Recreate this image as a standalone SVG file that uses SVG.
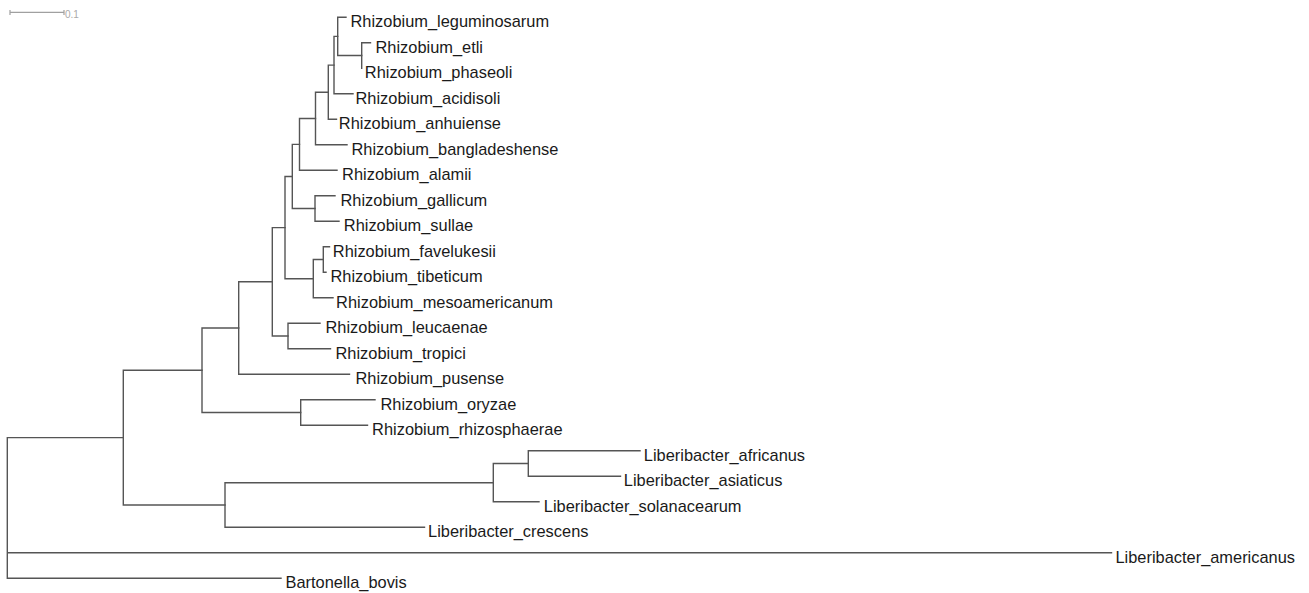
<svg xmlns="http://www.w3.org/2000/svg" width="1309" height="593" viewBox="0 0 1309 593">
<style>
.br{fill:none;stroke:#555;stroke-width:1.4;stroke-linecap:square}
.lb{font-family:"Liberation Sans",Arial,sans-serif;font-size:16.4px;fill:#1a1a1a}
.sc{fill:none;stroke:#a0a0a0;stroke-width:1.2}
.st{font-family:"Liberation Sans",Arial,sans-serif;font-size:10px;fill:#aaa}
</style>
<rect width="1309" height="593" fill="#fff"/>
<g id="scalebar">
<path class="sc" d="M10,12.3 H64 M10,10 V15 M64,10 V15"/>
<text class="st" x="65" y="18">0.1</text>
</g>
<g id="connectors">
<path class="br" d="M361.7,42.8 V68.3 M361.7,42.8 H370.5"/>
<path class="br" d="M337.7,17.3 V55.55 M337.7,17.3 H346 M337.7,55.55 H361.7"/>
<path class="br" d="M334,36.4 V93.8 M334,36.4 H337.7 M334,93.8 H353"/>
<path class="br" d="M328.3,65.1 V119.3 M328.3,65.1 H334 M328.3,119.3 H336.5"/>
<path class="br" d="M315.5,92.2 V144.8 M315.5,92.2 H328.3 M315.5,144.8 H347"/>
<path class="br" d="M299.5,118.5 V170.3 M299.5,118.5 H315.5 M299.5,170.3 H337"/>
<path class="br" d="M315,195.8 V221.3 M315,195.8 H335 M315,221.3 H339"/>
<path class="br" d="M292.3,144.4 V208.55 M292.3,144.4 H299.5 M292.3,208.55 H315"/>
<path class="br" d="M323.3,246.8 V272.3 M323.3,246.8 H329.5 M323.3,272.3 H326"/>
<path class="br" d="M313.3,259.55 V297.8 M313.3,259.55 H323.3 M313.3,297.8 H333"/>
<path class="br" d="M285,176.5 V278.7 M285,176.5 H292.3 M285,278.7 H313.3"/>
<path class="br" d="M288,323.3 V348.8 M288,323.3 H320 M288,348.8 H330.5"/>
<path class="br" d="M272.3,227.6 V336.05 M272.3,227.6 H285 M272.3,336.05 H288"/>
<path class="br" d="M238.7,281.8 V374.3 M238.7,281.8 H272.3 M238.7,374.3 H349.5"/>
<path class="br" d="M300.7,399.8 V425.3 M300.7,399.8 H375 M300.7,425.3 H367.5"/>
<path class="br" d="M202,328.05 V412.55 M202,328.05 H238.7 M202,412.55 H300.7"/>
<path class="br" d="M528.3,450.8 V476.3 M528.3,450.8 H640 M528.3,476.3 H620.5"/>
<path class="br" d="M493.3,463.55 V501.8 M493.3,463.55 H528.3 M493.3,501.8 H539"/>
<path class="br" d="M225,482.7 V527.3 M225,482.7 H493.3 M225,527.3 H424.5"/>
<path class="br" d="M123.3,370.3 V505 M123.3,370.3 H202 M123.3,505 H225"/>
<path class="br" d="M7.3,437.65 V578.3 M7.3,437.65 H123.3 M7.3,552.8 H1111.5 M7.3,578.3 H281"/>
</g>
<g id="leaf-Rhizobium_leguminosarum"><text class="lb" x="350.5" y="27.3">Rhizobium_leguminosarum</text></g>
<g id="leaf-Rhizobium_etli"><text class="lb" x="375.5" y="52.8">Rhizobium_etli</text></g>
<g id="leaf-Rhizobium_phaseoli"><text class="lb" x="364.8" y="78.3">Rhizobium_phaseoli</text></g>
<g id="leaf-Rhizobium_acidisoli"><text class="lb" x="355.5" y="103.8">Rhizobium_acidisoli</text></g>
<g id="leaf-Rhizobium_anhuiense"><text class="lb" x="338.8" y="129.3">Rhizobium_anhuiense</text></g>
<g id="leaf-Rhizobium_bangladeshense"><text class="lb" x="351.5" y="154.8">Rhizobium_bangladeshense</text></g>
<g id="leaf-Rhizobium_alamii"><text class="lb" x="342.1" y="180.3">Rhizobium_alamii</text></g>
<g id="leaf-Rhizobium_gallicum"><text class="lb" x="340.5" y="205.8">Rhizobium_gallicum</text></g>
<g id="leaf-Rhizobium_sullae"><text class="lb" x="343.8" y="231.3">Rhizobium_sullae</text></g>
<g id="leaf-Rhizobium_favelukesii"><text class="lb" x="332.8" y="256.8">Rhizobium_favelukesii</text></g>
<g id="leaf-Rhizobium_tibeticum"><text class="lb" x="330.5" y="282.3">Rhizobium_tibeticum</text></g>
<g id="leaf-Rhizobium_mesoamericanum"><text class="lb" x="336.1" y="307.8">Rhizobium_mesoamericanum</text></g>
<g id="leaf-Rhizobium_leucaenae"><text class="lb" x="325.5" y="333.3">Rhizobium_leucaenae</text></g>
<g id="leaf-Rhizobium_tropici"><text class="lb" x="335.5" y="358.8">Rhizobium_tropici</text></g>
<g id="leaf-Rhizobium_pusense"><text class="lb" x="355.5" y="384.3">Rhizobium_pusense</text></g>
<g id="leaf-Rhizobium_oryzae"><text class="lb" x="380.5" y="409.8">Rhizobium_oryzae</text></g>
<g id="leaf-Rhizobium_rhizosphaerae"><text class="lb" x="372.1" y="435.3">Rhizobium_rhizosphaerae</text></g>
<g id="leaf-Liberibacter_africanus"><text class="lb" x="643.8" y="460.8">Liberibacter_africanus</text></g>
<g id="leaf-Liberibacter_asiaticus"><text class="lb" x="623.8" y="486.3">Liberibacter_asiaticus</text></g>
<g id="leaf-Liberibacter_solanacearum"><text class="lb" x="543.8" y="511.8">Liberibacter_solanacearum</text></g>
<g id="leaf-Liberibacter_crescens"><text class="lb" x="428.1" y="537.3">Liberibacter_crescens</text></g>
<g id="leaf-Liberibacter_americanus"><text class="lb" x="1115.5" y="562.8">Liberibacter_americanus</text></g>
<g id="leaf-Bartonella_bovis"><text class="lb" x="285.5" y="588.3">Bartonella_bovis</text></g>
</svg>
